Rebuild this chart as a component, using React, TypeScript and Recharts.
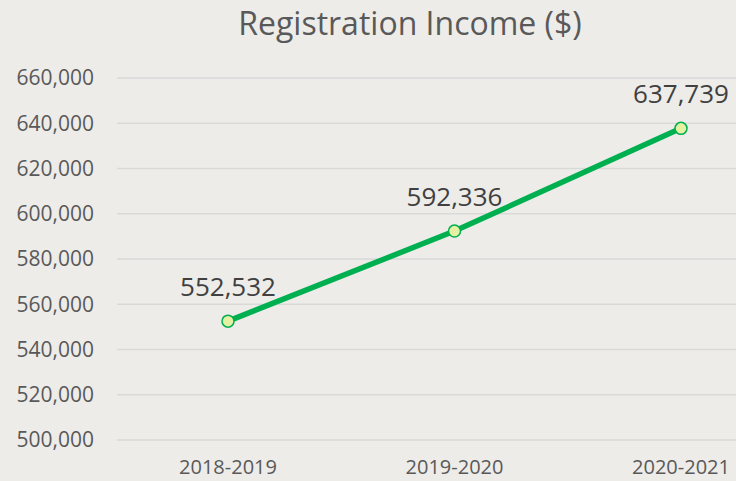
import { LineChart, Line, XAxis, YAxis, CartesianGrid, LabelList } from "recharts";

const seasons = ["2018-2019", "2019-2020", "2020-2021"];
const income = [552532, 592336, 637739];
const yTicks = [500000, 520000, 540000, 560000, 580000, 600000, 620000, 640000, 660000];

const data = seasons.map((season, i) => ({ season, income: income[i] }));

const fmt = (v: number) => v.toLocaleString("en-US");
const FONT = "'Open Sans', 'Noto Sans', sans-serif";

export default function App() {
  return (
    <div
      style={{
        position: "absolute",
        left: 0,
        top: 0,
        width: 736,
        height: 481,
        overflow: "hidden",
        background: "#EDECE9",
        fontFamily: FONT,
      }}
    >
      <div
        style={{
          position: "absolute",
          left: 0,
          width: 820,
          top: 1,
          textAlign: "center",
          fontSize: 32,
          color: "#595959",
          whiteSpace: "nowrap",
        }}
      >
        Registration Income ($)
      </div>
      <LineChart
        width={800}
        height={481}
        data={data}
        margin={{ top: 78, right: 4, bottom: 0, left: 0 }}
      >
        <CartesianGrid vertical={false} stroke="#D9D9D9" strokeWidth={1.5} />
        <XAxis
          dataKey="season"
          axisLine={false}
          tickLine={false}
          tickSize={0}
          tickMargin={20}
          height={41}
          padding={{ left: 111, right: 115 }}
          interval={0}
          tick={{ fill: "#595959", fontSize: 20, fontFamily: FONT }}
        />
        <YAxis
          domain={[500000, 660000]}
          ticks={yTicks}
          tickFormatter={fmt}
          axisLine={false}
          tickLine={false}
          tickSize={0}
          tickMargin={23}
          width={117}
          tick={{ fill: "#595959", fontSize: 21, fontFamily: FONT }}
        />
        <Line
          dataKey="income"
          stroke="#00B050"
          strokeWidth={5.5}
          isAnimationActive={false}
          dot={{ r: 6, fill: "#E4F0A2", stroke: "#00B050", strokeWidth: 1.5 }}
          activeDot={false}
        >
          <LabelList
            dataKey="income"
            position="top"
            offset={25}
            formatter={(v: any) => fmt(Number(v))}
            style={{ fill: "#404040", fontSize: 26, fontFamily: FONT }}
          />
        </Line>
      </LineChart>
    </div>
  );
}
